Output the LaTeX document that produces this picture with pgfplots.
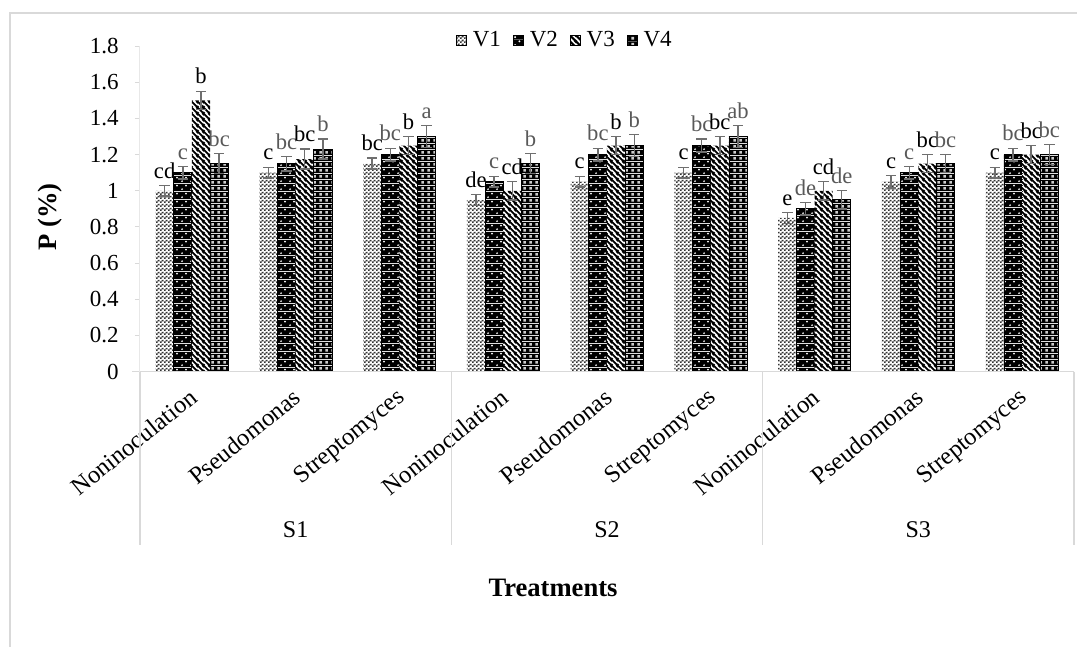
\documentclass[border=0pt]{standalone}
\usepackage{fontspec}
\setmainfont{Liberation Serif}
\usepackage{pgfplots}
\pgfplotsset{compat=1.18}
\usepackage{pgfplotstable}
\usetikzlibrary{patterns}

\definecolor{lblgray}{HTML}{595959}
\definecolor{errgray}{HTML}{6F6F6F}
\definecolor{linegray}{HTML}{D9D9D9}

% V1: fine grey checker
\pgfdeclarepatterninherentlycolored{vone}{\pgfpointorigin}{\pgfqpoint{2pt}{2pt}}{\pgfqpoint{2pt}{2pt}}{%
  \pgfsetfillcolor{white}\pgfpathrectangle{\pgfpointorigin}{\pgfqpoint{2pt}{2pt}}\pgfusepath{fill}%
  \pgfsetfillcolor{black!80}%
  \pgfpathrectangle{\pgfpointorigin}{\pgfqpoint{1pt}{1pt}}%
  \pgfpathrectangle{\pgfqpoint{1pt}{1pt}}{\pgfqpoint{1pt}{1pt}}%
  \pgfusepath{fill}}
% V2: black with white dots
\pgfdeclarepatterninherentlycolored{vtwo}{\pgfpointorigin}{\pgfqpoint{4.5pt}{4pt}}{\pgfqpoint{4.5pt}{4pt}}{%
  \pgfsetfillcolor{black}\pgfpathrectangle{\pgfpointorigin}{\pgfqpoint{4.5pt}{4pt}}\pgfusepath{fill}%
  \pgfsetfillcolor{white}%
  \pgfpathcircle{\pgfqpoint{1.125pt}{1pt}}{0.55pt}%
  \pgfpathcircle{\pgfqpoint{3.375pt}{3pt}}{0.55pt}%
  \pgfusepath{fill}}
% V3: diagonal stripes
\pgfdeclarepatterninherentlycolored{vthree}{\pgfpointorigin}{\pgfqpoint{3pt}{3pt}}{\pgfqpoint{3pt}{3pt}}{%
  \pgfsetfillcolor{white}\pgfpathrectangle{\pgfpointorigin}{\pgfqpoint{3pt}{3pt}}\pgfusepath{fill}%
  \pgfsetstrokecolor{black}\pgfsetlinewidth{1.1pt}%
  \pgfpathmoveto{\pgfqpoint{-0.5pt}{0.5pt}}\pgfpathlineto{\pgfqpoint{0.5pt}{-0.5pt}}%
  \pgfpathmoveto{\pgfqpoint{-0.5pt}{3.5pt}}\pgfpathlineto{\pgfqpoint{3.5pt}{-0.5pt}}%
  \pgfpathmoveto{\pgfqpoint{2.5pt}{3.5pt}}\pgfpathlineto{\pgfqpoint{3.5pt}{2.5pt}}%
  \pgfusepath{stroke}}
% V4: black with white small squares
\pgfdeclarepatterninherentlycolored{vfour}{\pgfpointorigin}{\pgfqpoint{3pt}{3pt}}{\pgfqpoint{3pt}{3pt}}{%
  \pgfsetfillcolor{black}\pgfpathrectangle{\pgfpointorigin}{\pgfqpoint{3pt}{3pt}}\pgfusepath{fill}%
  \pgfsetfillcolor{white!80!black}%
  \pgfpathrectangle{\pgfqpoint{0.75pt}{0.75pt}}{\pgfqpoint{1.5pt}{1.5pt}}%
  \pgfusepath{fill}}

\pgfplotstableread{
x y e l
0 1.00 0.03 cd
1 1.10 0.03 c
2 1.15 0.03 bc
3 0.95 0.03 de
4 1.05 0.03 c
5 1.10 0.03 c
6 0.85 0.03 e
7 1.05 0.035 c
8 1.10 0.03 c
}\Vone
\pgfplotstableread{
x y e l
0 1.10 0.035 c
1 1.15 0.04 bc
2 1.20 0.035 bc
3 1.05 0.03 c
4 1.20 0.035 bc
5 1.25 0.035 bc
6 0.90 0.035 de
7 1.10 0.035 c
8 1.20 0.035 bc
}\Vtwo
\pgfplotstableread{
x y e l
0 1.50 0.05 b
1 1.175 0.055 bc
2 1.25 0.05 b
3 1.00 0.05 cd
4 1.25 0.05 b
5 1.25 0.05 bc
6 1.00 0.05 cd
7 1.15 0.05 bc
8 1.20 0.05 bc
}\Vthree
\pgfplotstableread{
x y e l
0 1.15 0.055 bc
1 1.23 0.055 b
2 1.30 0.06 a
3 1.15 0.055 b
4 1.25 0.06 b
5 1.30 0.06 ab
6 0.95 0.05 de
7 1.15 0.05 bc
8 1.20 0.055 bc
}\Vfour

\begin{document}
\begin{tikzpicture}
\useasboundingbox (-70pt,-137.65pt) rectangle (468.5pt,185.85pt);
\draw[linegray, line width=0.6pt] (-65pt,-140pt) -- (-65pt,179.35pt) -- (470pt,179.35pt);
\begin{axis}[
  at={(0,0)}, anchor=south west,
  width=467pt, height=162.85pt, scale only axis,
  xmin=-0.5, xmax=8.5, ymin=0, ymax=1.8,
  clip=false,
  ybar=0pt, bar width=0.175,
  axis line style={draw=none},
  xtick={0,1,2,3,4,5,6,7,8},
  xticklabels={Noninoculation,Pseudomonas,Streptomyces,Noninoculation,Pseudomonas,Streptomyces,Noninoculation,Pseudomonas,Streptomyces},
  ytick={0,0.2,0.4,0.6,0.8,1,1.2,1.4,1.6,1.8},
  xtick pos=bottom, ytick pos=left,
  tick align=outside,
  major tick length=2.5pt,
  xtick style={draw=none},
  ytick style={draw=linegray, line width=0.5pt},
  /pgf/number format/assume math mode=true,
  yticklabel style={font=\fontsize{11.5}{13}\selectfont, xshift=-4.7pt},
  xticklabel style={font=\fontsize{12.3}{14}\selectfont, inner sep=0pt, anchor=north east, xshift=-2pt, yshift=-5pt, rotate=39},
  ylabel={\textbf{P (\%)}},
  ylabel style={font=\fontsize{13.3}{15}\selectfont, at={(axis description cs:-0.0964,0.475)}, anchor=center},
  legend style={at={(axis description cs:0.456,1.0184)}, anchor=center, legend columns=4, draw=none, fill=none,
    font=\fontsize{11.5}{13}\selectfont, /tikz/every even column/.append style={column sep=4pt},
    /tikz/every odd column/.append style={column sep=1pt}},
  legend image code/.code={\draw[#1] (0pt,-2.5pt) rectangle (5pt,2.5pt);},
  error bars/error bar style={draw=errgray, line width=0.7pt},
  error bars/error mark options={draw=errgray, line width=0.7pt, rotate=90, mark size=2.6pt},
  nodes near coords,
  point meta=explicit symbolic,
  visualization depends on={90.47*\thisrow{e} \as \eshift},
  every node near coord/.append style={font=\fontsize{11.3}{12}\selectfont, yshift=\eshift*1pt, anchor=south},
]
\addplot[draw=none, pattern=vone, every node near coord/.append style={text=black},
  error bars/.cd, y dir=both, y explicit]
  table[x=x, y=y, y error=e, meta=l]{\Vone};
\addplot[draw=black, pattern=vtwo, every node near coord/.append style={text=lblgray},
  error bars/.cd, y dir=both, y explicit]
  table[x=x, y=y, y error=e, meta=l]{\Vtwo};
\addplot[draw=none, pattern=vthree, every node near coord/.append style={text=black},
  error bars/.cd, y dir=both, y explicit]
  table[x=x, y=y, y error=e, meta=l]{\Vthree};
\addplot[draw=black, pattern=vfour, every node near coord/.append style={text=lblgray},
  error bars/.cd, y dir=both, y explicit]
  table[x=x, y=y, y error=e, meta=l]{\Vfour};
\legend{V1,V2,V3,V4}

\draw[linegray, line width=0.6pt] (axis cs:-0.577,0) -- (axis cs:8.5,0);
\draw[linegray!60, line width=0.5pt] (axis cs:-0.5,0) -- (axis cs:-0.5,1.8);
\draw[linegray, line width=0.6pt] (axis cs:-0.5,0) -- (axis cs:-0.5,-0.958);
\draw[linegray, line width=0.6pt] (axis cs:2.5,0) -- (axis cs:2.5,-0.958);
\draw[linegray, line width=0.6pt] (axis cs:5.5,0) -- (axis cs:5.5,-0.958);
\draw[linegray, line width=0.6pt] (axis cs:8.5,0) -- (axis cs:8.5,-0.958);
\node[font=\fontsize{12}{14}\selectfont] at (axis cs:1,-0.875) {S1};
\node[font=\fontsize{12}{14}\selectfont] at (axis cs:4,-0.875) {S2};
\node[font=\fontsize{12}{14}\selectfont] at (axis cs:7,-0.875) {S3};
\node[font=\bfseries\fontsize{13.3}{15}\selectfont] at (axis cs:3.48,-1.197) {Treatments};
\end{axis}
\end{tikzpicture}
\end{document}
